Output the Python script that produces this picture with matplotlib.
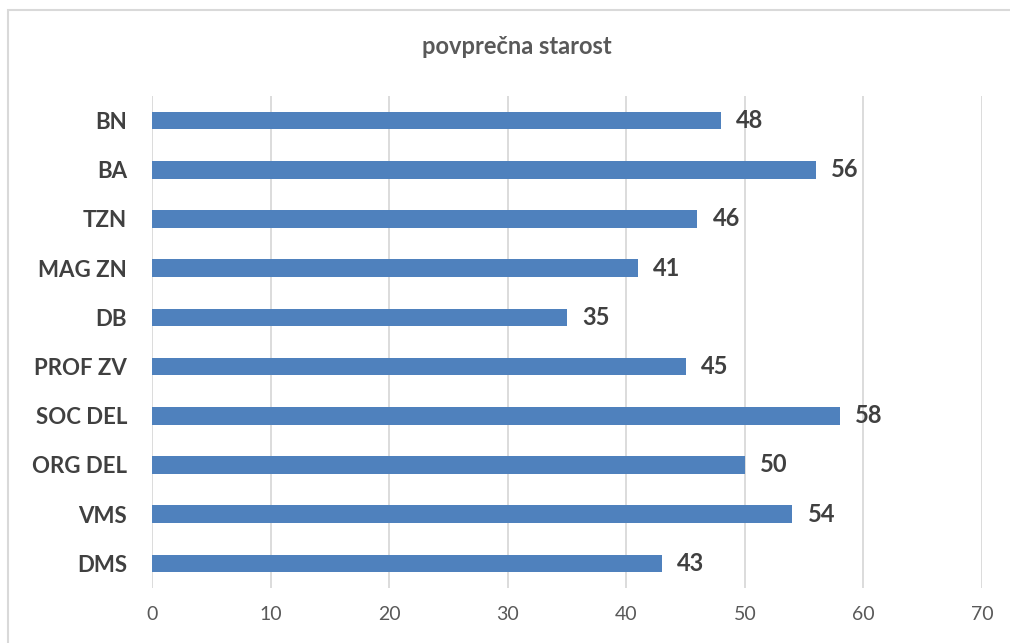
import matplotlib
matplotlib.use("Agg")
import matplotlib.pyplot as plt
from matplotlib.patches import Rectangle

categories = ["BN", "BA", "TZN", "MAG ZN", "DB", "PROF ZV", "SOC DEL", "ORG DEL", "VMS", "DMS"]
values = [48, 56, 46, 41, 35, 45, 58, 50, 54, 43]
xticks = [0, 10, 20, 30, 40, 50, 60, 70]
title = "povprečna starost"

plt.rcParams['font.family'] = ['Lato', 'DejaVu Sans']

W, H = 1010, 643
fig = plt.figure(figsize=(W / 100, H / 100), dpi=100)
fig.patch.set_facecolor("white")
fig.patches.append(Rectangle((8 / W, -0.1), 1.2, (H - 10) / H + 0.1, transform=fig.transFigure,
                             facecolor="none", edgecolor="#d9d9d9", linewidth=1.5))

ax = fig.add_axes([152 / W, 1 - 588 / H, (982 - 152) / W, (588 - 96) / H])
y = list(range(len(categories)))
bars = ax.barh(y, values, height=0.36, color="#4f81bd", zorder=3)
ax.set_ylim(len(categories) - 0.5, -0.5)
ax.set_xlim(0, 70)
ax.set_xticks(xticks)
ax.set_xticklabels([str(t) for t in xticks], fontsize=14, color="#595959")
ax.set_yticks(y)
ax.set_yticklabels(categories, fontsize=16, fontweight="bold", color="#404040")
ax.tick_params(axis="both", length=0)
ax.tick_params(axis="x", pad=13)
ax.tick_params(axis="y", pad=18)
ax.grid(axis="x", color="#d9d9d9", linewidth=1.3, zorder=0)
for s in ax.spines.values():
    s.set_visible(False)
ax.bar_label(bars, labels=[str(v) for v in values], padding=11, fontsize=17,
             fontweight="bold", color="#404040")

fig.text(517 / W, 1 - 46 / H, title, ha="center", va="center", fontsize=17,
         fontweight="bold", color="#595959")

fig.savefig("out.png", dpi=100)
